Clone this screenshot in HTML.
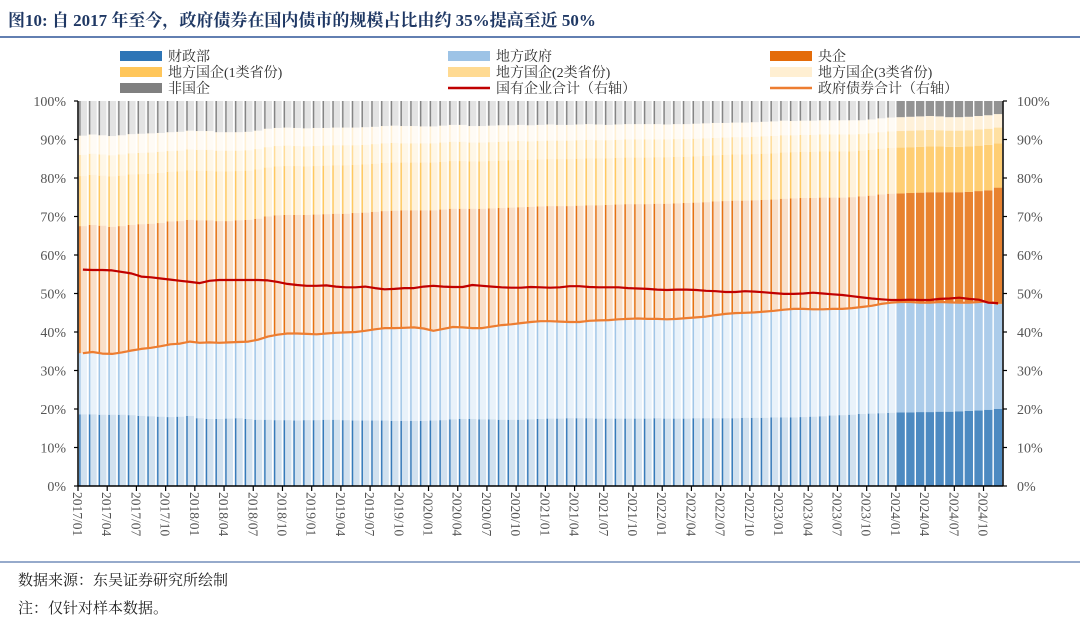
<!DOCTYPE html>
<html><head><meta charset="utf-8"><style>
body{margin:0;background:#fff;width:1080px;height:626px;overflow:hidden;font-family:"Liberation Serif","Noto Serif CJK SC",serif;}
svg text{font-family:"Liberation Serif","Noto Serif CJK SC",serif;}
</style></head><body>
<svg id="chart" width="1080" height="626" viewBox="0 0 1080 626" xmlns="http://www.w3.org/2000/svg">
<text x="8" y="26" font-size="17" font-weight="bold" fill="#1F3864">图10:  自 2017 年至今，政府债券在国内债市的规模占比由约 35%提高至近 50%</text>
<line x1="0" y1="37" x2="1080" y2="37" stroke="#2E5597" stroke-width="1.5"/>
<g id="legend"></g>
<g id="bars"></g>
<g id="lines"></g>
<g id="axes"></g>
<line x1="0" y1="562" x2="1080" y2="562" stroke="#2E5597" stroke-width="1"/>
<text x="18" y="585" font-size="15" fill="#222">数据来源：东吴证券研究所绘制</text>
<text x="18" y="613" font-size="15" fill="#222">注：仅针对样本数据。</text>
</svg>
<script>
const months = [];
for (let y = 2017; y <= 2024; y++) for (let m = 1; m <= 12; m++) { if (y === 2024 && m > 11) break; months.push(y + "/" + String(m).padStart(2, "0")); }
const yTicks = [0,10,20,30,40,50,60,70,80,90,100];
const mof = [18.6,18.6,18.5,18.5,18.5,18.4,18.2,18.1,18.0,17.9,18.0,18.2,
17.6,17.4,17.4,17.5,17.6,17.4,17.2,17.2,17.1,17.1,17.0,17.1,
17.1,17.2,17.2,17.1,17.0,17.0,17.0,17.0,16.9,16.9,16.9,16.9,
17.0,17.1,17.3,17.4,17.4,17.3,17.3,17.2,17.2,17.2,17.3,17.4,
17.5,17.5,17.6,17.6,17.6,17.5,17.5,17.5,17.5,17.5,17.5,17.6,
17.5,17.5,17.5,17.6,17.6,17.6,17.6,17.6,17.7,17.7,17.7,17.8,
17.8,17.8,17.9,18.0,18.1,18.3,18.4,18.5,18.7,18.8,18.9,19.0,
19.1,19.1,19.2,19.2,19.3,19.3,19.4,19.5,19.6,19.8,20.0];
const govTotal = [34.5,34.8,34.4,34.3,34.7,35.2,35.6,35.9,36.3,36.8,37.0,37.5,
37.2,37.3,37.2,37.3,37.4,37.5,38.0,38.8,39.3,39.6,39.6,39.5,
39.4,39.6,39.8,39.9,40.0,40.3,40.7,41.0,41.0,41.1,41.2,40.9,
40.3,40.8,41.3,41.2,41.0,41.0,41.4,41.8,42.0,42.3,42.6,42.8,
42.8,42.7,42.6,42.6,42.9,43.0,43.1,43.3,43.4,43.5,43.4,43.4,
43.3,43.4,43.6,43.8,44.0,44.4,44.7,44.9,45.0,45.1,45.3,45.5,
45.8,46.0,46.0,45.9,45.9,46.0,46.0,46.2,46.5,46.8,47.3,47.6,
47.8,47.8,47.6,47.6,47.8,47.7,47.6,47.6,47.8,48.0,47.3];
const central = [33.0,33.0,33.2,33.0,32.8,32.6,32.4,32.2,32.0,31.9,31.8,31.6,
31.8,31.7,31.6,31.5,31.6,31.6,31.4,31.2,31.0,30.8,30.8,30.9,
31.1,31.0,30.9,30.8,30.9,30.7,30.5,30.4,30.5,30.5,30.4,30.7,
31.3,31.0,30.7,30.8,31.0,31.0,30.7,30.4,30.3,30.1,29.9,29.8,
29.9,30.0,30.1,30.2,30.0,29.9,29.9,29.8,29.8,29.7,29.8,29.9,
30.0,30.0,29.9,29.8,29.7,29.5,29.3,29.2,29.1,29.1,29.0,28.9,
28.8,28.7,28.8,28.9,29.0,28.9,28.9,28.8,28.7,28.6,28.4,28.3,
28.2,28.3,28.6,28.7,28.5,28.6,28.7,28.8,28.8,28.8,30.2];
const lsoe1 = [13.0,13.0,13.0,13.1,13.1,13.1,13.0,13.0,13.0,12.9,12.9,12.9,
12.9,12.9,12.9,12.9,12.8,12.8,12.8,12.7,12.7,12.7,12.7,12.6,
12.6,12.6,12.6,12.6,12.5,12.5,12.5,12.5,12.5,12.4,12.4,12.4,
12.4,12.4,12.4,12.4,12.3,12.3,12.3,12.3,12.3,12.3,12.2,12.2,
12.2,12.2,12.2,12.2,12.2,12.2,12.1,12.1,12.1,12.1,12.1,12.1,
12.1,12.1,12.0,12.0,12.0,12.0,12.0,12.0,12.0,12.0,12.0,12.0,
12.0,12.0,12.0,12.0,12.0,12.0,12.0,11.9,11.9,11.9,11.9,11.9,
11.9,11.9,11.9,11.9,11.9,11.8,11.8,11.8,11.8,11.8,11.5];
const lsoe2 = [5.5,5.5,5.5,5.5,5.5,5.5,5.5,5.5,5.5,5.4,5.4,5.4,
5.4,5.4,5.4,5.4,5.3,5.3,5.3,5.3,5.3,5.3,5.2,5.2,
5.2,5.2,5.2,5.2,5.1,5.1,5.1,5.1,5.1,5.0,5.0,5.0,
5.0,5.0,5.0,5.0,4.9,4.9,4.9,4.9,4.9,4.9,4.8,4.8,
4.8,4.8,4.8,4.8,4.8,4.7,4.7,4.7,4.7,4.7,4.7,4.6,
4.6,4.6,4.6,4.6,4.6,4.5,4.5,4.5,4.5,4.5,4.5,4.5,
4.5,4.4,4.4,4.4,4.4,4.4,4.4,4.4,4.3,4.3,4.3,4.3,
4.3,4.3,4.3,4.3,4.2,4.2,4.2,4.2,4.2,4.2,4.1];
const lsoe3 = [5.0,5.0,5.0,5.0,5.0,5.0,5.0,5.0,4.9,4.9,4.9,4.9,
4.9,4.9,4.8,4.8,4.8,4.8,4.8,4.8,4.7,4.7,4.7,4.7,
4.7,4.6,4.6,4.6,4.6,4.6,4.5,4.5,4.5,4.5,4.5,4.4,
4.4,4.4,4.4,4.4,4.3,4.3,4.3,4.3,4.2,4.2,4.2,4.2,
4.2,4.1,4.1,4.1,4.1,4.1,4.0,4.0,4.0,4.0,4.0,4.0,
3.9,3.9,3.9,3.9,3.9,3.9,3.8,3.8,3.8,3.8,3.8,3.8,
3.8,3.7,3.7,3.7,3.7,3.7,3.7,3.7,3.6,3.6,3.6,3.6,
3.6,3.6,3.6,3.6,3.6,3.5,3.5,3.5,3.5,3.5,3.5];
const soeLine = [56.2,56.1,56.1,56.0,55.6,55.2,54.4,54.2,53.9,53.6,53.3,53.0,
52.7,53.3,53.5,53.5,53.5,53.5,53.5,53.4,53.0,52.5,52.2,52.0,
52.0,52.1,51.8,51.6,51.6,51.8,51.4,51.1,51.2,51.4,51.4,51.8,
52.0,51.8,51.7,51.7,52.2,52.0,51.8,51.6,51.5,51.5,51.7,51.6,
51.5,51.6,51.9,51.9,51.7,51.6,51.6,51.6,51.4,51.3,51.2,51.0,
50.9,51.0,51.0,50.9,50.7,50.6,50.4,50.4,50.6,50.5,50.3,50.1,
49.9,49.9,50.0,50.2,50.0,49.8,49.6,49.3,49.0,48.7,48.5,48.3,
48.3,48.4,48.3,48.3,48.6,48.7,48.9,48.6,48.4,47.6,47.5];

const NS = "http://www.w3.org/2000/svg";
const X0 = 78, X1 = 1003, Y0 = 486, Y1 = 101;
const n = months.length, slot = (X1 - X0) / n;
const xPos = i => X0 + i * slot;
const yPos = v => Y0 - (v / 100) * (Y0 - Y1);
function mk(tag, attrs, parent) { const e = document.createElementNS(NS, tag); for (const k in attrs) e.setAttribute(k, attrs[k]); parent.appendChild(e); return e; }

const colors = ["#2E75B6","#9DC3E6","#E46C0A","#FFC65A","#FFDA92","#FFEFD2","#808080"];
const names = ["mof","local-gov","central-soe","local-soe-1","local-soe-2","local-soe-3","non-soe"];
const bars = document.getElementById("bars");
for (let i = 0; i < n; i++) {
  const localGov = govTotal[i] - mof[i];
  const vals = [mof[i], localGov, central[i], lsoe1[i], lsoe2[i], lsoe3[i]];
  const sum = vals.reduce((a, b) => a + b, 0);
  vals.push(Math.max(0, 100 - sum));
  const solid = i >= 84;
  let base = 0;
  vals.forEach((v, k) => {
    const yTop = yPos(base + v), yBot = yPos(base);
    if (solid) {
      const r = mk("rect", {x: xPos(i) + 0.6, y: yTop, width: slot - 1.4, height: yBot - yTop, fill: colors[k], opacity: 0.85}, bars);
      
      
    } else {
      const r = mk("rect", {x: xPos(i) + 0.6, y: yTop, width: slot - 1.4, height: yBot - yTop, fill: colors[k], opacity: 0.22}, bars);
      
      
      const l = mk("rect", {x: xPos(i) + 1.2, y: yTop, width: 1.4, height: yBot - yTop, fill: colors[k], opacity: 0.95}, bars);
      
      
    }
    base += v;
  });
}

const lines = document.getElementById("lines");
function path(arr, color, name) {
  const d = arr.map((v, i) => (i ? "L" : "M") + (xPos(i) + slot / 2).toFixed(1) + "," + yPos(v).toFixed(1)).join(" ");
  const p = mk("path", {d, fill: "none", stroke: color, "stroke-width": 2.2, "stroke-linejoin": "round"}, lines);
  
  
}
path(govTotal, "#ED7D31", "gov-bond-line");
path(soeLine, "#C00000", "soe-total-line");

const axes = document.getElementById("axes");
mk("line", {x1: X0, y1: Y1, x2: X0, y2: Y0, stroke: "#000", "stroke-width": 1.5}, axes);
mk("line", {x1: X1, y1: Y1, x2: X1, y2: Y0, stroke: "#000", "stroke-width": 1.5}, axes);
mk("line", {x1: X0, y1: Y0, x2: X1, y2: Y0, stroke: "#000", "stroke-width": 1.5}, axes);
yTicks.forEach(t => {
  const y = yPos(t);
  mk("line", {x1: X0 - 4, y1: y, x2: X0, y2: y, stroke: "#000", "stroke-width": 1.2}, axes);
  mk("line", {x1: X1, y1: y, x2: X1 + 4, y2: y, stroke: "#000", "stroke-width": 1.2}, axes);
  const a = mk("text", {x: 66, y: y + 5, "font-size": 14, fill: "#555", "text-anchor": "end"}, axes);
  a.textContent = t + "%";
  
  
  const b = mk("text", {x: 1017, y: y + 5, "font-size": 14, fill: "#555"}, axes);
  b.textContent = t + "%";
  
  
});
months.forEach((m, i) => {
  if (i % 3) return;
  const x = xPos(i);
  mk("line", {x1: x, y1: Y0, x2: x, y2: Y0 + 5, stroke: "#000", "stroke-width": 1.2}, axes);
  const t = mk("text", {x: 0, y: 0, "font-size": 13.5, fill: "#555", transform: `translate(${x - 5},${Y0 + 6}) rotate(90)`}, axes);
  t.textContent = m;
  
  
});

const legendItems = [
  ["财政部", "rect", "#2E75B6", 120, 57], ["地方政府", "rect", "#9DC3E6", 448, 57], ["央企", "rect", "#E46C0A", 770, 57],
  ["地方国企(1类省份)", "rect", "#FFC65A", 120, 73], ["地方国企(2类省份)", "rect", "#FFDA92", 448, 73], ["地方国企(3类省份)", "rect", "#FFEFD2", 770, 73],
  ["非国企", "rect", "#808080", 120, 89], ["国有企业合计（右轴）", "line", "#C00000", 448, 89], ["政府债券合计（右轴）", "line", "#ED7D31", 770, 89]
];
const legend = document.getElementById("legend");
legendItems.forEach(([label, kind, color, x, y]) => {
  const g = mk("g", {}, legend);
  
  
  if (kind === "rect") mk("rect", {x, y: y - 6, width: 42, height: 10, fill: color}, g);
  else mk("line", {x1: x, y1: y - 1, x2: x + 42, y2: y - 1, stroke: color, "stroke-width": 2.5}, g);
  const t = mk("text", {x: x + 48, y: y + 4, "font-size": 14, fill: "#333"}, g);
  t.textContent = label;
});
</script>
</body></html>
